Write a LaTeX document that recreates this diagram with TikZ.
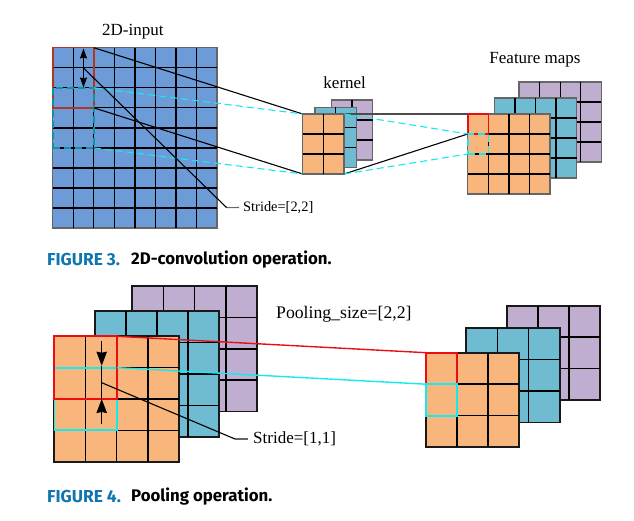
\documentclass[tikz,border=0pt]{standalone}
\usepackage{fontspec}
\setmainfont{Liberation Serif}
\newfontfamily\capfont{Fira Sans}
\usetikzlibrary{arrows.meta}
\definecolor{inputblue}{HTML}{6D9BD8}
\definecolor{maporange}{HTML}{F8B57C}
\definecolor{mapteal}{HTML}{6FBCD2}
\definecolor{mappurple}{HTML}{BFAED0}
\definecolor{capblue}{HTML}{0F75B0}
\definecolor{linkcyan}{RGB}{20,235,240}
\definecolor{darkcyan}{RGB}{10,150,160}
\definecolor{linkred}{RGB}{235,15,20}
\definecolor{darkred}{RGB}{175,55,35}
\tikzset{
    cellmap/.style={draw=black!60, line width=1.5pt, anchor=north west, inner sep=0pt, outer sep=0pt},
    cellmapdark/.style={cellmap, draw=black!90, line width=1.7pt},
    gridline/.style={black, line width=1.3pt},
    stridebox/.style={anchor=north west, inner sep=0pt, outer sep=0pt, line width=1.6pt},
    lbl/.style={inner sep=0pt, font=\fontsize{17}{20}\selectfont},
    captxt/.style={anchor=west, inner sep=0pt, font=\capfont\bfseries\fontsize{16.8}{20}\selectfont},
    figtxt/.style={captxt, text=capblue, font=\capfont\bfseries\fontsize{17.3}{20}\selectfont},
    link/.style={line width=1.1pt},
    cyanlink/.style={link, linkcyan, dash pattern=on 7pt off 4pt},
    smalltip/.style={-{Stealth[length=10pt,width=7pt,inset=1pt]}, line width=1pt},
    bigtip/.style={-{Stealth[length=14pt,width=10.5pt,inset=1pt]}, line width=1pt},
}
% name, fill, style, x, y, cols, rows, cell width, cell height
\newcommand{\gridmap}[9]{
    \node[#3, fill=#2, minimum width=#6*#8 pt, minimum height=#7*#9 pt] (#1) at (#4,#5) {};
    \pgfmathtruncatemacro{\lastcol}{#6-1}
    \pgfmathtruncatemacro{\lastrow}{#7-1}
    \foreach \c in {1,...,\lastcol}
        \draw[gridline] (#1.north west) ++(\c*#8,0) -- ++(0,#7*#9);
    \foreach \r in {1,...,\lastrow}
        \draw[gridline] (#1.north west) ++(0,\r*#9) -- ++(#6*#8,0);
}
\begin{document}
\begin{tikzpicture}[x=1pt, y=-1pt]
    \useasboundingbox (0,0) rectangle (634,521);
    % 2D convolution
    \gridmap{input}{inputblue}{cellmap}{52.7}{47.7}{8}{9}{20.55}{20.05}
    \gridmap{kernelC}{mappurple}{cellmap}{331.3}{100}{2}{3}{20.7}{20}
    \gridmap{kernelB}{mapteal}{cellmap}{315}{107.5}{2}{3}{20.7}{20}
    \gridmap{kernelA}{maporange}{cellmap}{302.7}{114}{2}{3}{20.7}{20}
    \gridmap{featC}{mappurple}{cellmap}{519}{82}{4}{4}{20.6}{20}
    \gridmap{featB}{mapteal}{cellmap}{494.3}{98}{4}{4}{20.6}{20}
    \gridmap{featA}{maporange}{cellmap}{467.7}{114}{4}{4}{20.6}{20}

    \node[stridebox, draw=darkred, minimum width=41.1pt, minimum height=60.15pt] (redin) at (52.7,47.7) {};
    \node[stridebox, draw=darkcyan, dash pattern=on 7pt off 4pt, minimum width=41.1pt, minimum height=60.15pt] (cyanin) at (52.7,87.8) {};
    \node[stridebox, draw=linkred, minimum width=20.6pt, minimum height=20pt] (redout) at (467.7,114) {};
    \node[stridebox, draw=linkcyan, dash pattern=on 7pt off 4pt, minimum width=20.6pt, minimum height=20pt] (cyanout) at (467.7,134) {};

    \draw[link] (redin.north east) -- (kernelA.north west);
    \draw[link] (redin.south east) -- (kernelA.south west);
    \draw[cyanlink] (cyanin.north east) -- (kernelA.north west);
    \draw[cyanlink] (cyanin.south east) -- (kernelA.south west);
    \draw[link, black!70] (kernelA.north east) -- (redout.north west);
    \draw[link] (kernelA.south east) -- (redout.south west);
    \draw[cyanlink] (kernelA.north east) -- (cyanout.north west);
    \draw[cyanlink] (kernelA.south east) -- (cyanout.south west);

    \coordinate (arrowmid) at (83.5,68);
    \coordinate (arrowtop) at (83.5,48.5);
    \coordinate (arrowbot) at (83.5,87.5);
    \coordinate (elbowconv) at (226.7,207.7);
    \draw[smalltip] (arrowmid) -- (arrowtop);
    \draw[smalltip] (arrowmid) -- (arrowbot);
    \node[lbl, anchor=west, font=\fontsize{14.4}{17}\selectfont] (strideconv) at (243,207.5) {Stride=[2,2]};
    \draw[link] (arrowmid) -- (elbowconv);
    \draw[link, black!60] (elbowconv) -- ([xshift=-4pt]strideconv.west);

    \node[lbl] (inputlabel) at (132.8,32) {2D-input};
    \node[lbl] (kernellabel) at (344.7,83) {kernel};
    \node[lbl] (featlabel) at (535,60) {Feature maps};

    \node[figtxt] (figthree) at (47,260) {FIGURE 3.};
    \node[captxt] (capthree) at (131,260) {2D-convolution operation.};

    % pooling
    \begin{scope}[gridline/.style={black, line width=1.5pt}]
    \gridmap{poolC}{mappurple}{cellmapdark}{132}{286}{4}{4}{31.25}{31.4}
    \gridmap{poolB}{mapteal}{cellmapdark}{94.7}{311}{4}{4}{31.15}{31.5}
    \gridmap{poolA}{maporange}{cellmapdark}{54.3}{336.3}{4}{4}{31.2}{31.35}
    \gridmap{resC}{mappurple}{cellmapdark}{506.7}{305.7}{3}{3}{31.2}{31.45}
    \gridmap{resB}{mapteal}{cellmapdark}{466.3}{327.7}{3}{3}{31.2}{31.55}
    \gridmap{resA}{maporange}{cellmapdark}{426}{352.7}{3}{3}{31.1}{31.45}
    \end{scope}

    \node[stridebox, draw=linkcyan, minimum width=62.7pt, minimum height=62.5pt] (cyanpool) at (54.3,367.7) {};
    \node[stridebox, draw=linkred, line width=2pt, minimum width=62.7pt, minimum height=62.4pt] (redpool) at (54.3,336.3) {};
    \node[stridebox, draw=linkred, line width=1.8pt, minimum width=31.1pt, minimum height=31.45pt] (redres) at (426,352.7) {};
    \node[stridebox, draw=linkcyan, line width=1.8pt, minimum width=31.1pt, minimum height=31.45pt] (cyanres) at (426,384.2) {};

    \draw[link, line width=1.4pt, linkred] (redpool.north east) -- (redres.north west);
    \draw[link, line width=1.4pt, linkcyan] (cyanpool.north east) -- (cyanres.north west);

    \coordinate (downstart) at (101.7,341);
    \coordinate (downtip) at (101.7,365.7);
    \coordinate (upstart) at (101.7,424);
    \coordinate (uptip) at (101.7,399);
    \coordinate (poolmid) at (101.7,382.7);
    \coordinate (elbowpool) at (235,439);
    \draw[bigtip] (downstart) -- (downtip);
    \draw[bigtip] (upstart) -- (uptip);
    \draw[line width=1pt] (downtip) -- (uptip);
    \node[lbl, anchor=west] (stridepool) at (253,439) {Stride=[1,1]};
    \draw[link] (poolmid) -- (elbowpool);
    \draw[link, black!60] (elbowpool) -- ([xshift=-5pt]stridepool.west);

    \node[lbl, anchor=west, font=\fontsize{17.7}{22}\selectfont] (poollabel) at (276,314) {Pooling\_size=[2,2]};

    \node[figtxt] (figfour) at (47,497) {FIGURE 4.};
    \node[captxt] (capfour) at (131,497) {Pooling operation.};
\end{tikzpicture}
\end{document}
